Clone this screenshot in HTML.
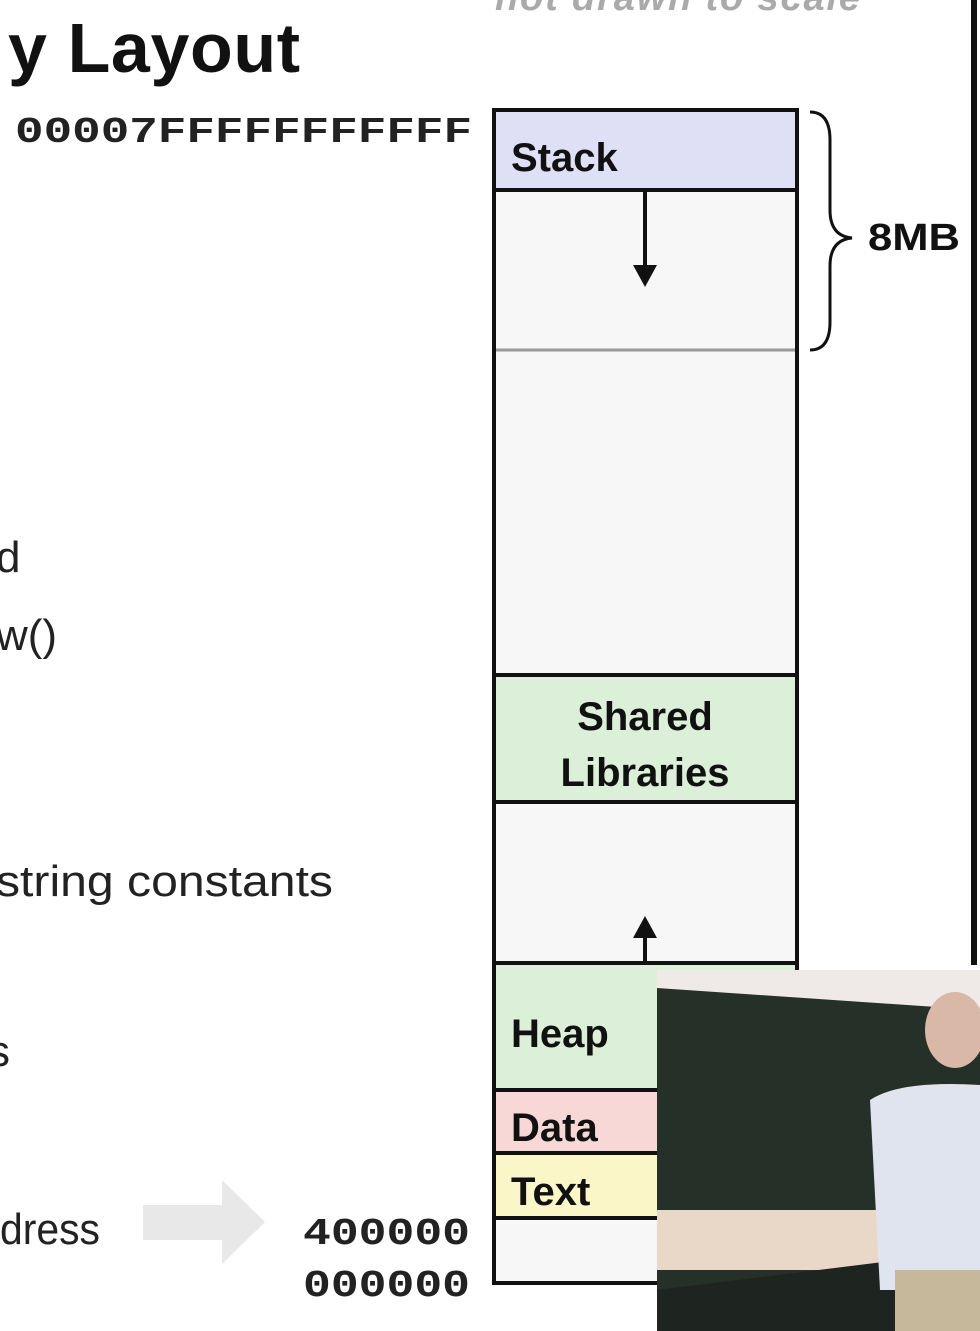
<!DOCTYPE html>
<html><head><style>body{margin:0;background:#fff}svg{display:block}</style></head><body>
<svg width="980" height="1331" viewBox="0 0 980 1331" xmlns="http://www.w3.org/2000/svg" font-family="Liberation Sans, sans-serif">
<rect width="980" height="1331" fill="#fff"/>
<text x="495" y="10" font-size="38" font-style="italic" font-weight="bold" fill="#aaa" textLength="365">not drawn to scale</text>
<text x="8" y="72" font-size="70" font-weight="bold" fill="#111" textLength="292">y Layout</text>
<text x="15" y="142" font-family="Liberation Mono, monospace" font-size="36" font-weight="bold" fill="#222" textLength="457" lengthAdjust="spacingAndGlyphs">00007FFFFFFFFFFF</text>
<g font-size="44" fill="#222">
<text x="-4" y="572">d</text>
<text x="-4" y="650">w()</text>
<text x="-4" y="896" textLength="337" lengthAdjust="spacingAndGlyphs">string constants</text>
<text x="-12" y="1066">s</text>
<text x="0" y="1244" textLength="100" lengthAdjust="spacingAndGlyphs">dress</text>
</g>
<polygon points="143,1205 222,1205 222,1180 265,1222 222,1264 222,1240 143,1240" fill="#e8e8e8"/>
<g font-family="Liberation Mono, monospace" font-size="38" font-weight="bold" fill="#222">
<text x="303" y="1244" textLength="167" lengthAdjust="spacingAndGlyphs">400000</text>
<text x="303" y="1296" textLength="167" lengthAdjust="spacingAndGlyphs">000000</text>
</g>
<rect x="494" y="110" width="303" height="80" fill="#dfe0f6"/>
<rect x="494" y="190" width="303" height="485" fill="#f7f7f7"/>
<rect x="494" y="675" width="303" height="127" fill="#dcefd8"/>
<rect x="494" y="802" width="303" height="161" fill="#f7f7f7"/>
<rect x="494" y="963" width="303" height="127" fill="#dcefd8"/>
<rect x="494" y="1090" width="303" height="63" fill="#f8d8d6"/>
<rect x="494" y="1153" width="303" height="65" fill="#fbf6c8"/>
<rect x="494" y="1218" width="303" height="65" fill="#f7f7f7"/>
<g stroke="#111" stroke-width="4" fill="none">
<rect x="494" y="110" width="303" height="1173"/>
<line x1="494" y1="190" x2="797" y2="190"/>
<line x1="494" y1="675" x2="797" y2="675"/>
<line x1="494" y1="802" x2="797" y2="802"/>
<line x1="494" y1="963" x2="797" y2="963"/>
<line x1="494" y1="1090" x2="797" y2="1090"/>
<line x1="494" y1="1153" x2="797" y2="1153"/>
<line x1="494" y1="1218" x2="797" y2="1218"/>
<line x1="645" y1="192" x2="645" y2="268"/>
<line x1="645" y1="935" x2="645" y2="962"/>
</g>
<line x1="496" y1="350" x2="795" y2="350" stroke="#999" stroke-width="3"/>
<polygon points="633,265 657,265 645,287" fill="#111"/>
<polygon points="633,938 657,938 645,916" fill="#111"/>
<path d="M810,112 Q830,112 830,140 L830,210 Q830,236 852,238 Q830,240 830,266 L830,322 Q830,350 810,350" stroke="#111" stroke-width="3" fill="none"/>
<text x="868" y="250" font-size="38" font-weight="bold" fill="#111" textLength="92" lengthAdjust="spacingAndGlyphs">8MB</text>
<line x1="974" y1="0" x2="974" y2="965" stroke="#111" stroke-width="6"/>
<g font-size="40" font-weight="bold" fill="#111">
<text x="511" y="171">Stack</text>
<text x="645" y="730" text-anchor="middle">Shared</text>
<text x="645" y="786" text-anchor="middle">Libraries</text>
<text x="511" y="1047">Heap</text>
<text x="511" y="1141">Data</text>
<text x="511" y="1205">Text</text>
</g>
<rect x="657" y="970" width="323" height="361" fill="#efeae8"/>
<polygon points="657,988 980,1010 980,1331 657,1331" fill="#253028"/>
<rect x="657" y="1210" width="323" height="60" fill="#e9d8c8"/>
<polygon points="657,1290 980,1250 980,1331 657,1331" fill="#1e2420"/>
<ellipse cx="955" cy="1030" rx="30" ry="38" fill="#d9b8a8"/>
<path d="M870,1100 Q900,1080 980,1085 L980,1290 L880,1290 Z" fill="#dfe4ef"/>
<rect x="895" y="1270" width="85" height="61" fill="#c6b89a"/>
</svg>
</body></html>
